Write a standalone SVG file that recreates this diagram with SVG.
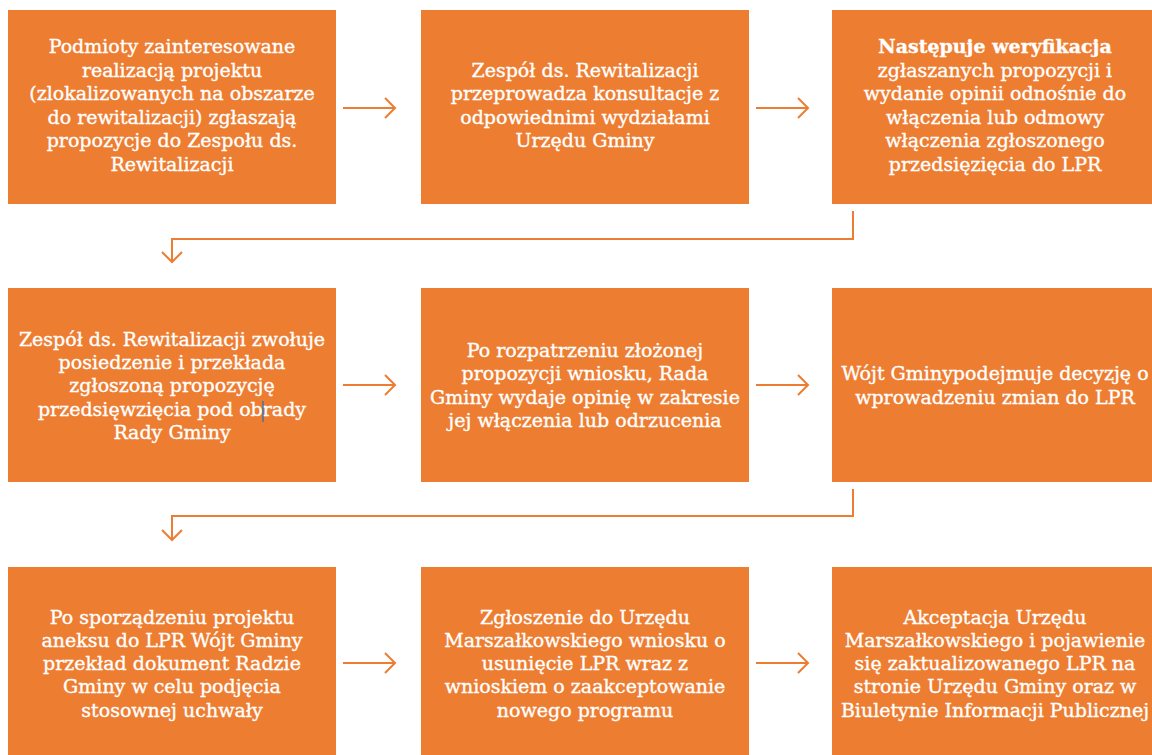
<svg xmlns="http://www.w3.org/2000/svg" width="1152" height="755" viewBox="0 0 1152 755">
<defs>
<style>
.box{fill:#ED7D31;}
.t{font-family:"DejaVu Serif","Liberation Serif",serif;font-size:19px;fill:#ffffff;stroke:#ffffff;stroke-width:0.35;text-anchor:middle;}
.b{font-weight:bold;}
.c{fill:none;stroke:#ED7D31;stroke-width:2;}
</style>
<marker id="ah" markerWidth="14" markerHeight="22" refX="12" refY="11" orient="auto" markerUnits="userSpaceOnUse">
<path d="M2,1 L12,11 L2,21" fill="none" stroke="#ED7D31" stroke-width="2"/>
</marker>
</defs>
<rect width="1152" height="755" fill="#ffffff"/>
<g id="n1"><rect class="box" x="8" y="10" width="328" height="194"/>
<text class="t"><tspan x="172" y="53">Podmioty zainteresowane</tspan><tspan x="172" y="77">realizacją projektu</tspan><tspan x="172" y="100">(zlokalizowanych na obszarze</tspan><tspan x="172" y="124">do rewitalizacji) zgłaszają</tspan><tspan x="172" y="147">propozycje do Zespołu ds.</tspan><tspan x="172" y="171">Rewitalizacji</tspan></text></g>
<g id="n2"><rect class="box" x="421" y="10" width="328" height="194"/>
<text class="t"><tspan x="585" y="77">Zespół ds. Rewitalizacji</tspan><tspan x="585" y="100">przeprowadza konsultacje z</tspan><tspan x="585" y="124">odpowiednimi wydziałami</tspan><tspan x="585" y="147">Urzędu Gminy</tspan></text></g>
<g id="n3"><rect class="box" x="832" y="10" width="326" height="194"/>
<text class="t"><tspan x="995" y="53" class="b">Następuje weryfikacja</tspan><tspan x="995" y="77">zgłaszanych propozycji i</tspan><tspan x="995" y="100">wydanie opinii odnośnie do</tspan><tspan x="995" y="124">włączenia lub odmowy</tspan><tspan x="995" y="147">włączenia zgłoszonego</tspan><tspan x="995" y="171">przedsięzięcia do LPR</tspan></text></g>
<g id="n4"><rect class="box" x="8" y="288" width="328" height="194"/>
<text class="t"><tspan x="172" y="346">Zespół ds. Rewitalizacji zwołuje</tspan><tspan x="172" y="369">posiedzenie i przekłada</tspan><tspan x="172" y="392">zgłoszoną propozycję</tspan><tspan x="172" y="416">przedsięwzięcia pod obrady</tspan><tspan x="172" y="439">Rady Gminy</tspan></text>
<line x1="263" y1="401" x2="263" y2="422" stroke="#1f6fc0" stroke-width="1.2"/></g>
<g id="n5"><rect class="box" x="421" y="288" width="328" height="194"/>
<text class="t"><tspan x="585" y="357">Po rozpatrzeniu złożonej</tspan><tspan x="585" y="380">propozycji wniosku, Rada</tspan><tspan x="585" y="404">Gminy wydaje opinię w zakresie</tspan><tspan x="585" y="427">jej włączenia lub odrzucenia</tspan></text></g>
<g id="n6"><rect class="box" x="832" y="288" width="326" height="194"/>
<text class="t"><tspan x="995" y="380">Wójt Gminypodejmuje decyzję o</tspan><tspan x="995" y="404">wprowadzeniu zmian do LPR</tspan></text></g>
<g id="n7"><rect class="box" x="8" y="567" width="328" height="194"/>
<text class="t"><tspan x="172" y="624">Po sporządzeniu projektu</tspan><tspan x="172" y="647">aneksu do LPR Wójt Gminy</tspan><tspan x="172" y="670">przekład dokument Radzie</tspan><tspan x="172" y="693">Gminy w celu podjęcia</tspan><tspan x="172" y="717">stosownej uchwały</tspan></text></g>
<g id="n8"><rect class="box" x="421" y="567" width="328" height="194"/>
<text class="t"><tspan x="585" y="624">Zgłoszenie do Urzędu</tspan><tspan x="585" y="647">Marszałkowskiego wniosku o</tspan><tspan x="585" y="670">usunięcie LPR wraz z</tspan><tspan x="585" y="693">wnioskiem o zaakceptowanie</tspan><tspan x="585" y="717">nowego programu</tspan></text></g>
<g id="n9"><rect class="box" x="832" y="567" width="326" height="194"/>
<text class="t"><tspan x="995" y="624">Akceptacja Urzędu</tspan><tspan x="995" y="647">Marszałkowskiego i pojawienie</tspan><tspan x="995" y="670">się zaktualizowanego LPR na</tspan><tspan x="995" y="693">stronie Urzędu Gminy oraz w</tspan><tspan x="995" y="717">Biuletynie Informacji Publicznej</tspan></text></g>
<g id="connectors">
<line class="c" x1="343" y1="108" x2="395" y2="108" marker-end="url(#ah)"/>
<line class="c" x1="756" y1="108" x2="808" y2="108" marker-end="url(#ah)"/>
<path class="c" d="M853,211 V239 H172 V262" marker-end="url(#ah)"/>
<line class="c" x1="343" y1="385" x2="395" y2="385" marker-end="url(#ah)"/>
<line class="c" x1="756" y1="385" x2="808" y2="385" marker-end="url(#ah)"/>
<path class="c" d="M853,489 V516 H172 V540" marker-end="url(#ah)"/>
<line class="c" x1="343" y1="663" x2="395" y2="663" marker-end="url(#ah)"/>
<line class="c" x1="756" y1="663" x2="808" y2="663" marker-end="url(#ah)"/>
</g>
</svg>
